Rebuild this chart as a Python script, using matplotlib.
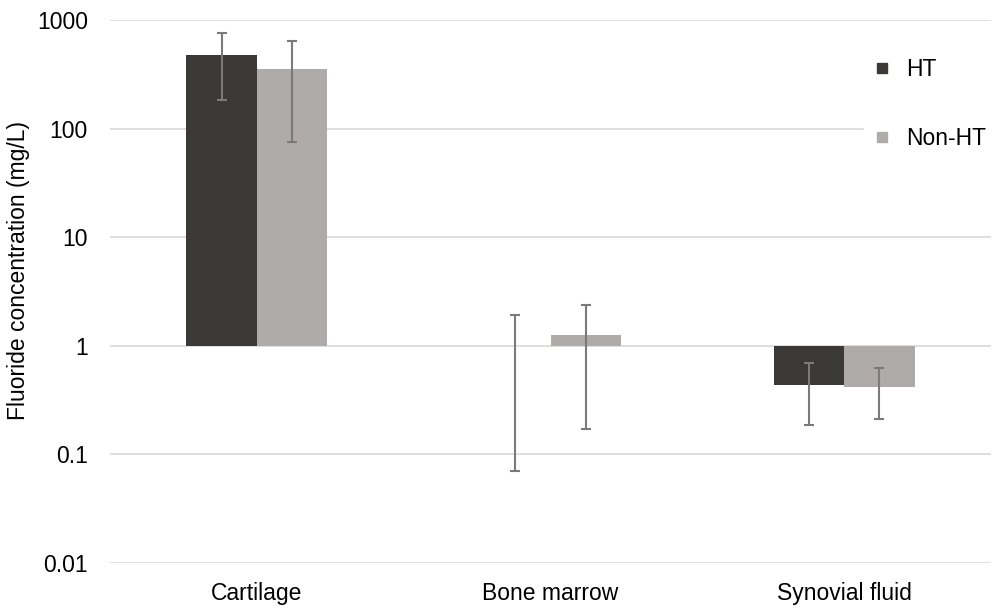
import matplotlib
matplotlib.use("Agg")
import matplotlib.pyplot as plt
from matplotlib.lines import Line2D
import numpy as np

categories = ["Cartilage", "Bone marrow", "Synovial fluid"]
series_names = ["HT", "Non-HT"]
ht_mean = [475, 1.0, 0.44]
ht_sd = [290, 0.93, 0.255]
nonht_mean = [355, 1.27, 0.415]
nonht_sd = [280, 1.10, 0.205]
ytick_values = [0.01, 0.1, 1, 10, 100, 1000]
ytick_labels = ["0.01", "0.1", "1", "10", "100", "1000"]

colors = ["#3b3937", "#afabab"]
plt.rcParams['font.family'] = ['Liberation Sans', 'DejaVu Sans']
FS = 16.5

fig = plt.figure(figsize=(9.97, 6.09), dpi=100)
ax = fig.add_axes([110/997, 1 - 563/609, 881/997, 543/609])
ax.set_yscale('log')
ax.set_ylim(0.01, 1000)
ax.set_xlim(-0.5, len(categories) - 0.5)

x = np.arange(len(categories))
bw = 0.24
for i, (m, s) in enumerate([(ht_mean, ht_sd), (nonht_mean, nonht_sd)]):
    m = np.array(m, dtype=float)
    s = np.array(s, dtype=float)
    xpos = x + (i - 0.5) * bw
    ax.bar(xpos, m - 1, bottom=1, width=bw, color=colors[i], zorder=2)
    ax.errorbar(xpos, m, yerr=s, fmt='none', ecolor='#7a7a7a', elinewidth=1.5,
                capsize=3.8, capthick=1.5, zorder=3)

ax.set_yticks(ytick_values)
ax.set_yticklabels(ytick_labels)
ax.yaxis.set_minor_locator(matplotlib.ticker.NullLocator())
ax.set_xticks(x)
ax.set_xticklabels(categories)
ax.tick_params(axis='both', length=0, labelsize=FS, colors='black')
ax.tick_params(axis='y', pad=16)
ax.tick_params(axis='x', pad=14)
ax.grid(axis='y', color='#d9d9d9', linewidth=1.2, zorder=0)
for sp in ax.spines.values():
    sp.set_visible(False)
ax.set_axisbelow(True)

fig.text(19/997, 1 - 270/609, "Fluoride concentration (mg/L)", rotation=90,
         ha='center', va='center', fontsize=FS)

handles = [Line2D([], [], marker='s', linestyle='none', markersize=7.5,
                  markerfacecolor=c, markeredgecolor=c) for c in colors]
leg = ax.legend(handles, series_names, loc='upper left',
                bbox_to_anchor=(853/997, 1 - 35/609), bbox_transform=fig.transFigure,
                frameon=True, facecolor='white', edgecolor='white', framealpha=1,
                fontsize=FS, labelspacing=2.0, handlelength=0.5, handletextpad=0.8,
                borderpad=0.5)
leg.set_zorder(5)

fig.savefig("out.png", dpi=100)
